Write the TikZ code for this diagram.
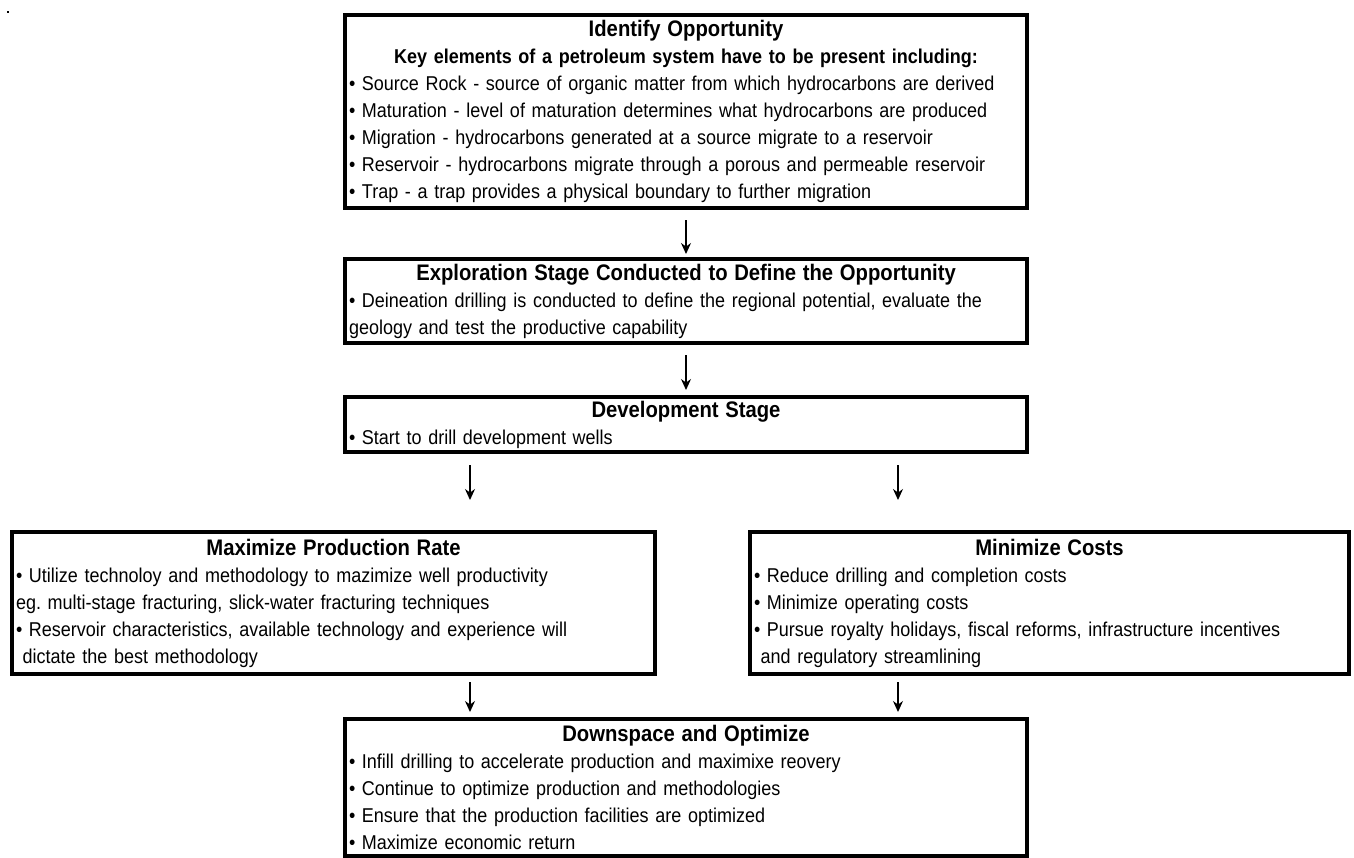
\documentclass[tikz,border=0pt]{standalone}
\usepackage{fontspec}
\setmainfont{Liberation Sans}[FakeStretch=0.9]
\usetikzlibrary{arrows.meta}
\frenchspacing
\newcommand{\boxtitle}[1]{\makebox[\linewidth]{\fontsize{22.5}{27}\selectfont\bfseries #1}}
\begin{document}
\begin{tikzpicture}[x=1pt,y=-1pt,
  box/.style={draw=black, line width=4pt, rectangle, anchor=north west,
    inner xsep=4pt, inner ysep=1pt, align=left,
    font=\fontsize{20}{27}\selectfont},
  arr/.style={line width=1.3pt, -{Stealth[length=11pt,width=10pt]}},
]
\useasboundingbox (0,0) rectangle (1354,857);
\fill (7,11) rectangle (9,13);

\node[box, minimum width=682pt, minimum height=193pt, text width=674pt] (b1) at (343,13) {%
\boxtitle{Identify Opportunity}\\
\makebox[\linewidth]{\bfseries Key elements of a petroleum system have to be present including:}\\
• Source Rock - source of organic matter from which hydrocarbons are derived\\
• Maturation - level of maturation determines what hydrocarbons are produced\\
• Migration - hydrocarbons generated at a source migrate to a reservoir\\
• Reservoir - hydrocarbons migrate through a porous and permeable reservoir\\
• Trap - a trap provides a physical boundary to further migration};

\node[box, minimum width=682pt, minimum height=84pt, text width=674pt] (b2) at (343,257) {%
\boxtitle{Exploration Stage Conducted to Define the Opportunity}\\
• Deineation drilling is conducted to define the regional potential, evaluate the\\
geology and test the productive capability};

\node[box, minimum width=682pt, minimum height=55pt, text width=674pt] (b3) at (343,395) {%
\boxtitle{Development Stage}\\
• Start to drill development wells};

\node[box, minimum width=643pt, minimum height=142pt, text width=635pt] (b4) at (10,530) {%
\boxtitle{Maximize Production Rate}\\
• Utilize technoloy and methodology to mazimize well productivity\\
eg. multi-stage fracturing, slick-water fracturing techniques\\
• Reservoir characteristics, available technology and experience will\\
\ dictate the best methodology};

\node[box, minimum width=599pt, minimum height=142pt, text width=591pt] (b5) at (748,530) {%
\boxtitle{Minimize Costs}\\
• Reduce drilling and completion costs\\
• Minimize operating costs\\
• Pursue royalty holidays, fiscal reforms, infrastructure incentives\\
\ and regulatory streamlining};

\node[box, minimum width=682pt, minimum height=137pt, text width=674pt] (b6) at (343,717) {%
\boxtitle{Downspace and Optimize}\\
• Infill drilling to accelerate production and maximixe reovery\\
• Continue to optimize production and methodologies\\
• Ensure that the production facilities are optimized\\
• Maximize economic return};

\coordinate (xl) at (470,0);
\coordinate (xr) at (898,0);

\draw[arr] ([yshift=-10pt]b1.south) -- ([yshift=3pt]b2.north);
\draw[arr] ([yshift=-10pt]b2.south) -- ([yshift=5pt]b3.north);
\draw[arr] ([yshift=-11pt]b3.south -| xl) -- ([yshift=30pt]b4.north -| xl);
\draw[arr] ([yshift=-11pt]b3.south -| xr) -- ([yshift=30pt]b5.north -| xr);
\draw[arr] ([yshift=-6pt]b4.south -| xl) -- ([yshift=5pt]b6.north -| xl);
\draw[arr] ([yshift=-6pt]b5.south -| xr) -- ([yshift=5pt]b6.north -| xr);
\end{tikzpicture}
\end{document}
